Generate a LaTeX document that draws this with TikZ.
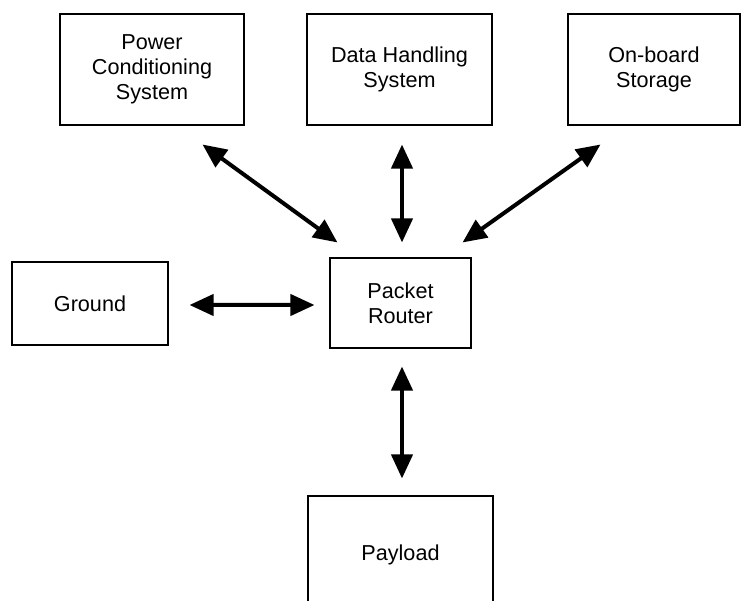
\documentclass[tikz,border=0pt]{standalone}
\usepackage{fontspec}
\setmainfont{Liberation Sans}
\usepackage{tikz}
\usetikzlibrary{arrows.meta}

\begin{document}
\begin{tikzpicture}[x=0.02cm, y=-0.02cm,
    block/.style={draw, line width=0.6pt, font=\fontsize{12.3}{14.2}\selectfont},
    link/.style={{Triangle[length=0.48cm, width=0.42cm]}-{Triangle[length=0.48cm, width=0.42cm]}, line width=0.08cm}]

    \clip (0,0) rectangle (741,601);

    % Power conditioning
    \node[block, minimum width=3.68cm, minimum height=2.22cm] (powercond) at (152, 69.5) {
      \begin{minipage}{3.2cm}
        \centering
        Power \\ Conditioning \\ System
      \end{minipage}
    };

    % Data handling
    \node[block, minimum width=3.70cm, minimum height=2.22cm] (datahandling) at (399.5, 69.5) {
      \begin{minipage}{3.2cm}
        \centering
        Data Handling \\ System
      \end{minipage}
    };

    % On-board storage
    \node[block, minimum width=3.44cm, minimum height=2.22cm] (storage) at (654, 69.5) {
      \begin{minipage}{3.0cm}
        \centering
        On-board \\ Storage
      \end{minipage}
    };

    % Ground
    \node[block, minimum width=3.12cm, minimum height=1.66cm] (ground) at (90, 303.5) {Ground};

    % Packet router
    \node[block, minimum width=2.82cm, minimum height=1.80cm] (router) at (400.5, 303) {
      \begin{minipage}{2.4cm}
        \centering
        Packet \\ Router
      \end{minipage}
    };

    % Payload
    \node[block, minimum width=3.70cm, minimum height=2.36cm] (payload) at (400.5, 555) {Payload};

    % --------------------
    % Arrows
    % --------------------

    \draw[link] ([shift={(-42,19)}]powercond.south east) -- ([shift={(8,-15)}]router.north west);
    \draw[link] ([shift={(2.5,19)}]datahandling.south) -- ([shift={(1.5,-15)}]router.north);
    \draw[link] ([shift={(33,19)}]storage.south west) -- ([shift={(-9,-15)}]router.north east);

    \draw[link] ([shift={(21,1.5)}]ground.east) -- ([shift={(-15,2)}]router.west);

    \draw[link] ([shift={(1.5,18)}]router.south) -- ([shift={(1.5,-17)}]payload.north);

  \end{tikzpicture}
\end{document}
